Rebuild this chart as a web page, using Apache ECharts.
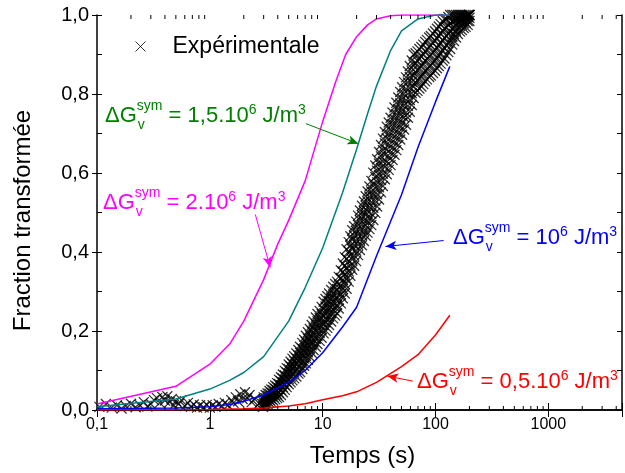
<!DOCTYPE html>
<html><head><meta charset="utf-8">
<script src="https://cdn.jsdelivr.net/npm/echarts@6/dist/echarts.min.js"></script>
<style>html,body{margin:0;padding:0;background:#fff}#c{width:625px;height:473px}</style>
</head><body><div id="c"></div>
<script>
// ---------- data ----------
const xTickLabels = ['0,1', '1', '10', '100', '1000'];
const yTickLabels = ['0,0', '0,2', '0,4', '0,6', '0,8', '1,0'];

const magentaT = [0.1, 0.5, 1, 1.5, 2, 3, 4, 5, 7, 10, 13, 16, 20, 25, 30, 40, 50, 134];
const magentaF = [0.015, 0.06, 0.116, 0.167, 0.225, 0.33, 0.42, 0.48, 0.58, 0.73, 0.83, 0.9, 0.945, 0.975, 0.99, 0.998, 1, 1];

const tealT = [0.1, 0.5, 1, 1.5, 2, 3, 5, 7, 10, 15, 20, 25, 30, 40, 50, 70, 100, 134];
const tealF = [0.008, 0.028, 0.053, 0.075, 0.095, 0.135, 0.225, 0.31, 0.41, 0.55, 0.66, 0.75, 0.82, 0.91, 0.96, 0.99, 1, 1];

const blueT = [0.1, 0.5, 1, 1.5, 2, 3, 5, 7, 10, 15, 20, 30, 50, 70, 100, 134];
const blueF = [0.003, 0.005, 0.008, 0.014, 0.022, 0.038, 0.07, 0.1, 0.145, 0.21, 0.26, 0.39, 0.545, 0.665, 0.78, 0.87];

const redT = [0.1, 1, 2, 3, 5, 7, 10, 15, 20, 30, 50, 70, 100, 134];
const redF = [0, 0.001, 0.003, 0.005, 0.01, 0.016, 0.026, 0.036, 0.046, 0.07, 0.11, 0.14, 0.19, 0.24];

// experimental points, early times (sparse crosses)
const expLowT = [0.105,0.12,0.135,0.15,0.165,0.18,0.2,0.22,0.24,0.26,0.28,0.3,0.32,0.34,0.36,0.38,0.4,0.42,0.44,0.46,0.48,0.5,0.53,0.56,0.6,0.64,0.68,0.72,0.77,0.82,0.88,0.94,1.0,1.06,1.12,1.2,1.28,1.36,1.45,1.55,1.62,1.7,1.78,1.86,1.95,2.05,2.15,2.25,2.35,2.5,2.65,2.8,2.95];
const expLowF = [0.008,0.015,0.006,0.012,0.004,0.01,0.016,0.007,0.012,0.02,0.009,0.015,0.025,0.03,0.018,0.033,0.024,0.035,0.02,0.028,0.012,0.022,0.015,0.025,0.01,0.018,0.008,0.014,0.006,0.012,0.007,0.013,0.006,0.012,0.008,0.015,0.01,0.018,0.012,0.025,0.018,0.032,0.022,0.04,0.028,0.045,0.03,0.038,0.02,0.028,0.012,0.02,0.008];

// experimental points, dense noisy band: times, and readings of the band from its upper to its lower edge at each time
const expBandT = [3,3.12,3.25,3.38,3.51,3.65,3.8,3.95,4.1,4.27,4.44,4.62,4.8,5,5.2,5.4,5.6,5.85,6.1,6.3,6.6,6.85,7.1,7.4,7.7,8,8.3,8.7,9,9.4,9.8,10.2,10.6,11,11.4,11.9,12.4,12.9,13.4,13.9,14.5,15.1,15.7,16.3,17,17.6,18.3,19,19.8,20.6,21.4,22.3,23.2,24.1,25,26,27,28.1,29.3,30.4,31.6,32.9,34.2,35.6,37,38.5,40,41.6,43.3,45,46.8,48.7,50.6,52.7,54.8,57,59.2,61.6,64,66.6,69.3,72,75,78,81,84,88,91,95,99,103,107,111,116,120,125,130,135,141,146,152,158,165,171,178,185,193,200];
const expBandU = [0.032,0.038,0.042,0.048,0.052,0.058,0.062,0.068,0.077,0.083,0.09,0.099,0.106,0.115,0.122,0.13,0.136,0.143,0.152,0.16,0.17,0.178,0.188,0.197,0.205,0.215,0.224,0.234,0.243,0.251,0.261,0.274,0.281,0.288,0.295,0.304,0.312,0.319,0.325,0.337,0.354,0.371,0.387,0.407,0.425,0.44,0.455,0.465,0.477,0.492,0.505,0.517,0.528,0.541,0.553,0.566,0.58,0.601,0.619,0.635,0.653,0.671,0.687,0.704,0.717,0.728,0.74,0.753,0.766,0.778,0.791,0.805,0.817,0.83,0.842,0.857,0.871,0.885,0.9,0.903,0.908,0.914,0.919,0.925,0.932,0.937,0.943,0.947,0.953,0.959,0.965,0.971,0.977,0.984,0.99,0.99,0.995,1,1,1,1,1,1,1,1,1,1,1];
const expBandUM = [0.026,0.03,0.036,0.041,0.044,0.05,0.054,0.059,0.066,0.073,0.08,0.088,0.095,0.104,0.11,0.117,0.123,0.13,0.138,0.145,0.155,0.163,0.172,0.181,0.189,0.199,0.207,0.217,0.225,0.233,0.243,0.255,0.262,0.269,0.276,0.285,0.293,0.3,0.306,0.318,0.334,0.35,0.365,0.383,0.401,0.416,0.431,0.441,0.453,0.468,0.481,0.493,0.504,0.517,0.528,0.54,0.553,0.572,0.59,0.606,0.624,0.642,0.658,0.675,0.688,0.699,0.711,0.724,0.737,0.749,0.762,0.776,0.788,0.801,0.813,0.829,0.843,0.858,0.874,0.879,0.884,0.89,0.895,0.901,0.908,0.913,0.919,0.923,0.929,0.935,0.941,0.947,0.953,0.96,0.966,0.969,0.974,0.979,0.983,0.985,0.988,0.991,0.993,0.994,0.995,0.996,0.998,1];
const expBandM = [0.02,0.022,0.03,0.034,0.036,0.042,0.046,0.05,0.054,0.063,0.07,0.076,0.083,0.092,0.097,0.104,0.11,0.117,0.124,0.13,0.139,0.147,0.155,0.164,0.172,0.182,0.19,0.199,0.207,0.215,0.224,0.236,0.243,0.25,0.257,0.266,0.274,0.281,0.287,0.299,0.314,0.329,0.343,0.359,0.377,0.392,0.407,0.417,0.429,0.444,0.457,0.469,0.48,0.493,0.503,0.514,0.526,0.543,0.561,0.577,0.595,0.613,0.629,0.646,0.659,0.67,0.682,0.695,0.708,0.72,0.733,0.747,0.759,0.772,0.784,0.8,0.815,0.831,0.847,0.855,0.86,0.866,0.871,0.877,0.884,0.889,0.895,0.899,0.905,0.911,0.917,0.923,0.929,0.936,0.942,0.947,0.952,0.957,0.965,0.97,0.976,0.981,0.985,0.988,0.99,0.992,0.995,1];
const expBandML = [0.015,0.017,0.023,0.026,0.028,0.033,0.037,0.04,0.044,0.051,0.058,0.064,0.071,0.079,0.084,0.09,0.095,0.101,0.108,0.113,0.122,0.13,0.137,0.146,0.154,0.164,0.171,0.18,0.187,0.195,0.204,0.215,0.222,0.229,0.236,0.245,0.253,0.26,0.266,0.278,0.292,0.306,0.319,0.333,0.351,0.366,0.381,0.391,0.403,0.418,0.431,0.443,0.454,0.467,0.476,0.486,0.497,0.512,0.53,0.546,0.564,0.582,0.598,0.615,0.628,0.639,0.651,0.664,0.677,0.689,0.702,0.716,0.728,0.741,0.753,0.77,0.785,0.802,0.819,0.829,0.834,0.84,0.845,0.851,0.858,0.863,0.869,0.873,0.879,0.885,0.891,0.897,0.903,0.91,0.916,0.923,0.929,0.936,0.945,0.952,0.96,0.967,0.972,0.975,0.979,0.981,0.985,0.993];
const expBandL = [0.01,0.012,0.015,0.018,0.02,0.024,0.027,0.03,0.033,0.038,0.045,0.051,0.058,0.065,0.07,0.075,0.08,0.085,0.092,0.096,0.104,0.112,0.118,0.127,0.135,0.145,0.152,0.16,0.167,0.175,0.183,0.194,0.201,0.208,0.215,0.224,0.232,0.239,0.245,0.257,0.27,0.283,0.295,0.307,0.325,0.34,0.355,0.365,0.377,0.392,0.405,0.417,0.428,0.441,0.449,0.458,0.468,0.481,0.499,0.515,0.533,0.551,0.567,0.584,0.597,0.608,0.62,0.633,0.646,0.658,0.671,0.685,0.697,0.71,0.722,0.74,0.755,0.772,0.79,0.803,0.808,0.814,0.819,0.825,0.832,0.837,0.843,0.847,0.853,0.859,0.865,0.871,0.877,0.884,0.89,0.898,0.906,0.914,0.925,0.934,0.943,0.952,0.958,0.962,0.967,0.97,0.975,0.985];

// annotation arrows (data coordinates: [t, fraction])
const greenArrow = [[7.1, 0.725], [20.8, 0.674]];
const magentaArrow = [[2.53, 0.495], [3.43, 0.361]];
const blueArrow = [[118, 0.429], [36, 0.414]];
const redArrow = [[63, 0.073], [37.4, 0.086]];

// ---------- helpers ----------
const FONT = '"Liberation Sans", Arial, sans-serif';
const zip = (a, b) => a.map((v, i) => [v, b[i]]);
const expData = zip(expLowT, expLowF).concat(
  zip(expBandT, expBandU), zip(expBandT, expBandUM), zip(expBandT, expBandM),
  zip(expBandT, expBandML), zip(expBandT, expBandL));

const ctx = document.createElement('canvas').getContext('2d');
function tw(s, size) { ctx.font = size + 'px ' + FONT; return ctx.measureText(s).width; }
function txt(s, x, base, size, color) {
  return { type: 'text', x: x, y: base - 0.33 * size, silent: true,
    style: { text: s, font: size + 'px ' + FONT, fill: color, align: 'left', verticalAlign: 'middle', textAlign: 'left', textVerticalAlign: 'middle' } };
}
function annot(x, base, color, parts) {
  const M = 22, S = 14; const els = []; let cx = x;
  parts.forEach(p => {
    if (typeof p === 'string') { els.push(txt(p, cx, base, M, color)); cx += tw(p, M); }
    else if (p.sup) { els.push(txt(p.sup, cx, base - 8, S, color)); cx += tw(p.sup, S); }
    else if (p.stack) {
      els.push(txt(p.stack[0], cx, base - 12, S, color));
      els.push(txt(p.stack[1], cx + 1, base + 7, S, color));
      cx += Math.max(tw(p.stack[0], S), tw(p.stack[1], S));
    }
  });
  return els;
}
const dG = ['\u0394G', { stack: ['sym', 'v'] }];

// minor ticks for log axis (2..9 x 10^k)
const minorTicks = [];
for (let k = -1; k <= 3; k++) for (let m = 2; m <= 9; m++) { const v = m * Math.pow(10, k); if (v < 4500) minorTicks.push([v, 0]); }

function arrowLine(pts, color) {
  return { silent: true, symbol: ['none', 'arrow'], symbolSize: [7, 11], animation: false,
    lineStyle: { color: color, width: 1, type: 'solid' }, label: { show: false }, emphasis: { disabled: true },
    data: [[{ coord: pts[0] }, { coord: pts[1] }]] };
}

const chart = echarts.init(document.getElementById('c'), null, { renderer: 'canvas' });
const axisLine = { show: true, lineStyle: { color: '#000', width: 1.5 } };
const xFmt = v => { const l = Math.log10(v); const r = Math.round(l); return Math.abs(l - r) < 1e-6 ? (xTickLabels[r + 1] || '') : ''; };

chart.setOption({
  animation: false,
  backgroundColor: '#fff',
  textStyle: { fontFamily: FONT },
  grid: { left: 97, top: 15, width: 529, height: 396, containLabel: false },
  legend: {
    data: [{ name: 'Expérimentale', icon: 'path://M0,0L10,10M10,0L0,10' }],
    left: 128, top: 30, itemWidth: 10, itemHeight: 10,
    itemStyle: { color: 'none', borderColor: '#000', borderWidth: 1 },
    textStyle: { fontSize: 23, fontFamily: FONT, color: '#000', padding: [0, 0, 0, 22] },
    selectedMode: false
  },
  xAxis: [
    { type: 'log', logBase: 10, min: 0.1, max: 4500, position: 'bottom',
      axisLine: axisLine, splitLine: { show: false },
      axisTick: { show: true, inside: true, length: 7, lineStyle: { color: '#000', width: 1 } },
      axisLabel: { formatter: xFmt, fontSize: 16, color: '#000', margin: 7, fontFamily: FONT },
      name: 'Temps (s)', nameLocation: 'middle', nameGap: 34,
      nameTextStyle: { fontSize: 24, color: '#000', fontFamily: FONT, padding: [0, 0, 0, 6] } },
    { type: 'log', logBase: 10, min: 0.1, max: 4500, position: 'top',
      axisLine: axisLine, splitLine: { show: false },
      axisTick: { show: true, inside: true, length: 7, lineStyle: { color: '#000', width: 1 } },
      axisLabel: { show: false } }
  ],
  yAxis: [
    { type: 'value', min: 0, max: 1, interval: 0.2, position: 'left',
      axisLine: axisLine, splitLine: { show: false },
      axisTick: { show: true, inside: false, length: 5, lineStyle: { color: '#000', width: 1 } },
      axisLabel: { formatter: v => yTickLabels[Math.round(v / 0.2)], fontSize: 20, color: '#000', margin: 8, fontFamily: FONT },
      name: 'Fraction transformée', nameLocation: 'middle', nameGap: 62,
      nameTextStyle: { fontSize: 24, color: '#000', fontFamily: FONT, padding: [0, 16, 0, 0] } },
    { type: 'value', min: 0, max: 1, interval: 0.1, position: 'left',
      axisLine: { show: false }, splitLine: { show: false },
      axisTick: { show: true, inside: true, length: 5, lineStyle: { color: '#000', width: 1 } },
      axisLabel: { show: false } },
    { type: 'value', min: 0, max: 1, interval: 0.1, position: 'right',
      axisLine: axisLine, splitLine: { show: false },
      axisTick: { show: true, inside: true, length: 5, lineStyle: { color: '#000', width: 1 } },
      axisLabel: { show: false } }
  ],
  series: [
    { type: 'custom', name: 'minorTicks', silent: true, xAxisIndex: 0, yAxisIndex: 0,
      data: minorTicks, encode: { x: 0, y: 1 }, z: 5,
      renderItem: (params, api) => {
        const v = api.value(0);
        const b = api.coord([v, 0]);
        const t = api.coord([v, 1]);
        return { type: 'group', children: [
          { type: 'line', shape: { x1: b[0], y1: b[1], x2: b[0], y2: b[1] - 4 }, style: { stroke: '#000', lineWidth: 1 } },
          { type: 'line', shape: { x1: t[0], y1: t[1], x2: t[0], y2: t[1] + 4 }, style: { stroke: '#000', lineWidth: 1 } }
        ] };
      } },
    { type: 'scatter', name: 'Expérimentale', data: expData, large: false,
      symbol: 'path://M0,0L10,10M10,0L0,10', symbolSize: 10,
      itemStyle: { color: 'none', borderColor: '#000', borderWidth: 1.3 }, z: 2 },
    { type: 'line', name: 'g2', data: zip(magentaT, magentaF), showSymbol: false,
      lineStyle: { color: '#ff00ff', width: 1.5 }, itemStyle: { color: '#ff00ff' }, z: 3,
      markLine: arrowLine(magentaArrow, '#ff00ff') },
    { type: 'line', name: 'g15', data: zip(tealT, tealF), showSymbol: false,
      lineStyle: { color: '#008080', width: 1.5 }, itemStyle: { color: '#008080' }, z: 3,
      markLine: arrowLine(greenArrow, '#008000') },
    { type: 'line', name: 'g1', data: zip(blueT, blueF), showSymbol: false,
      lineStyle: { color: '#0000ff', width: 1.5 }, itemStyle: { color: '#0000ff' }, z: 3,
      markLine: arrowLine(blueArrow, '#0000ff') },
    { type: 'line', name: 'g05', data: zip(redT, redF), showSymbol: false,
      lineStyle: { color: '#ff0000', width: 1.5 }, itemStyle: { color: '#ff0000' }, z: 3,
      markLine: arrowLine(redArrow, '#ff0000') }
  ],
  graphic: [].concat(
    annot(105, 123, '#008000', dG.concat([' = 1,5.10', { sup: '6' }, ' J/m', { sup: '3' }])),
    annot(103, 210, '#ff00ff', dG.concat([' = 2.10', { sup: '6' }, ' J/m', { sup: '3' }])),
    annot(453, 245, '#0000ff', dG.concat([' = 10', { sup: '6' }, ' J/m', { sup: '3' }])),
    annot(417, 389, '#ff0000', dG.concat([' = 0,5.10', { sup: '6' }, ' J/m', { sup: '3' }]))
  )
});
</script>
</body></html>
